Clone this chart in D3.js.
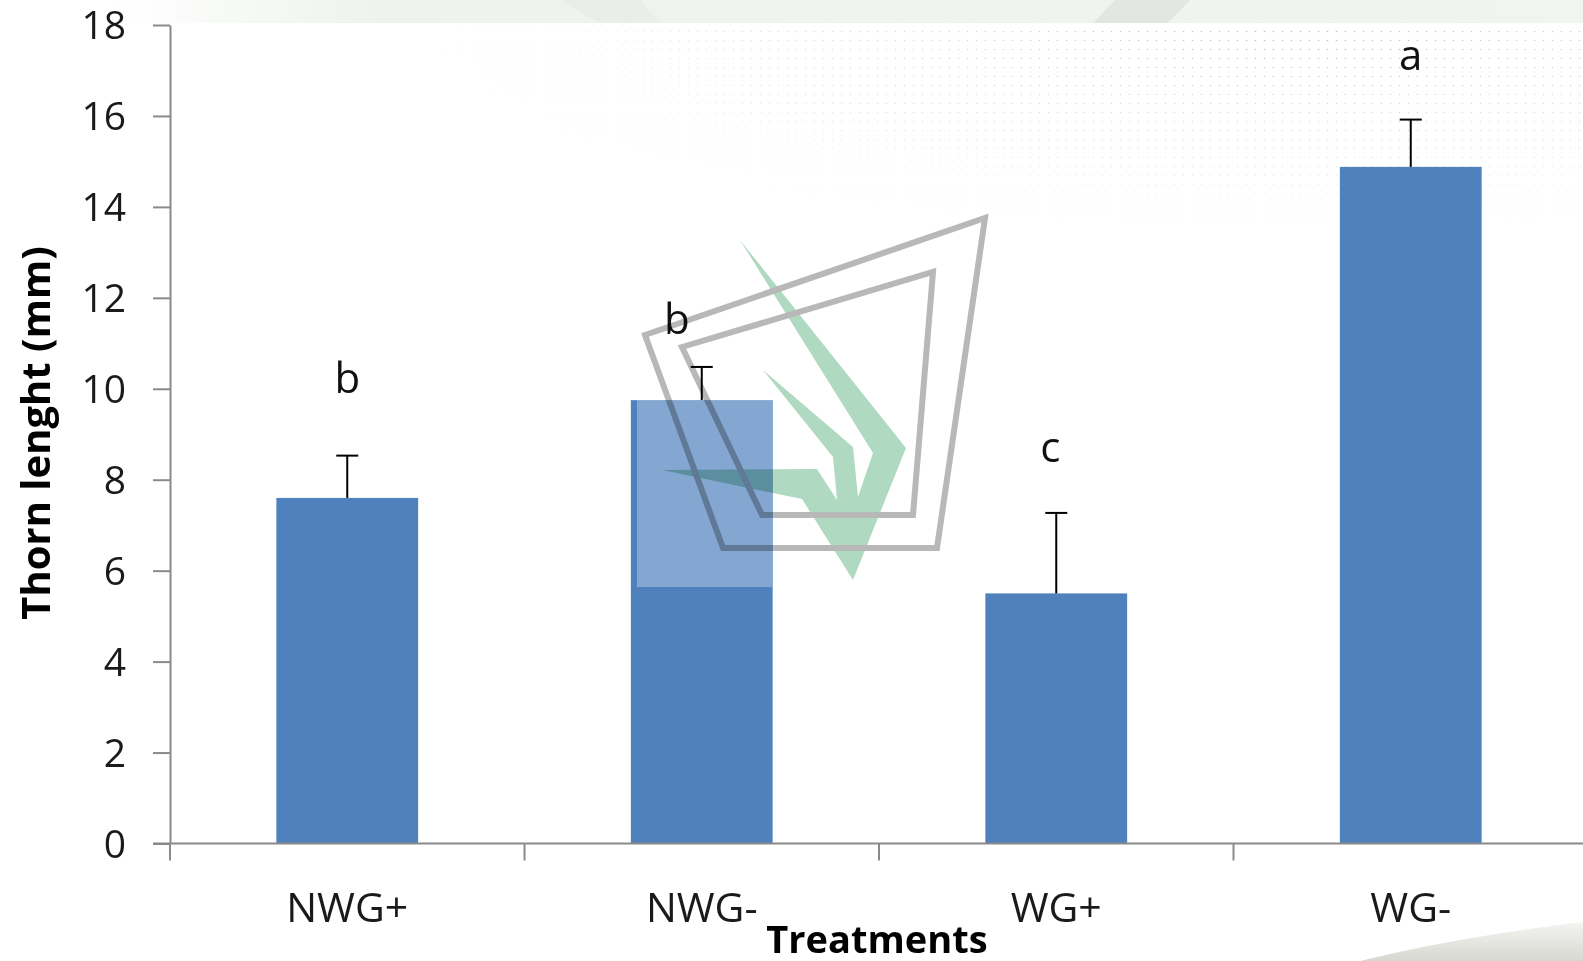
<!DOCTYPE html>
<html>
<head>
<meta charset="utf-8">
<script src="https://cdn.jsdelivr.net/npm/d3@7"></script>
<style>
  html, body { margin: 0; padding: 0; background: #fff; overflow: hidden; }
  svg { display: block; font-family: "Open Sans", sans-serif; }
</style>
</head>
<body>
<div id="chart"></div>
<script>
// data
const categories = ['NWG+', 'NWG-', 'WG+', 'WG-'];
const means = [7.6, 9.75, 5.5, 14.88];
const stdErrors = [0.93, 0.73, 1.77, 1.04];
const letters = ['b', 'b', 'c', 'a'];
const letterLevels = [9.9, 11.2, 8.4, 17.0]; // baseline of the letter, in mm
const yTicks = [0, 2, 4, 6, 8, 10, 12, 14, 16, 18];

const W = 1583, H = 961;
const axisX = 170, y0 = 843.5, yTop = 25, bandW = 354.5;

const svg = d3.select('#chart').append('svg')
  .attr('width', W).attr('height', H);

const defs = svg.append('defs');

// --- slide background bits (top band, dots, corner swoosh) ---
const bandGrad = defs.append('linearGradient').attr('id', 'bandGrad');
bandGrad.append('stop').attr('offset', '0.07').attr('stop-color', '#ffffff');
bandGrad.append('stop').attr('offset', '0.24').attr('stop-color', '#eef3ed');
bandGrad.append('stop').attr('offset', '1').attr('stop-color', '#f0f5ef');

svg.append('rect').attr('x', 0).attr('y', 0).attr('width', W).attr('height', 23)
  .attr('fill', 'url(#bandGrad)');
svg.append('path').attr('d', 'M1115,0 L1190,0 L1168,23 L1093,23 Z').attr('fill', '#e2e8e1');
svg.append('path').attr('d', 'M560,0 L640,0 L660,23 L600,23 Z').attr('fill', '#e9eee8');

const dots = defs.append('pattern').attr('id', 'dots')
  .attr('width', 9).attr('height', 9).attr('patternUnits', 'userSpaceOnUse');
dots.append('circle').attr('cx', 4.5).attr('cy', 4.5).attr('r', 0.8).attr('fill', '#bdbdbd');

const fade = defs.append('radialGradient').attr('id', 'fade')
  .attr('cx', 0.75).attr('cy', 0).attr('r', 0.8);
fade.append('stop').attr('offset', 0).attr('stop-color', '#fff');
fade.append('stop').attr('offset', 1).attr('stop-color', '#000');
defs.append('mask').attr('id', 'fadeMask')
  .append('rect').attr('x', 420).attr('y', 23).attr('width', W - 420).attr('height', 280)
  .attr('fill', 'url(#fade)');
svg.append('rect').attr('x', 420).attr('y', 23).attr('width', W - 420).attr('height', 280)
  .attr('fill', 'url(#dots)').attr('mask', 'url(#fadeMask)');

const swoosh = defs.append('linearGradient').attr('id', 'swoosh')
  .attr('x1', 0).attr('y1', 0).attr('x2', 0).attr('y2', 1);
swoosh.append('stop').attr('offset', 0).attr('stop-color', '#f4f4f1');
swoosh.append('stop').attr('offset', 1).attr('stop-color', '#d8d8d2');
svg.append('path').attr('d', 'M1360,961 C1430,944 1500,932 1583,922 L1583,961 Z')
  .attr('fill', 'url(#swoosh)');

// --- scales ---
const x = d3.scaleBand().domain(categories)
  .range([axisX, axisX + bandW * categories.length]).padding(0);
const y = d3.scaleLinear().domain([0, 18]).range([y0, yTop]);
const barW = x.bandwidth() * 0.4;

const rows = categories.map((c, i) => ({
  cat: c, mean: means[i], se: stdErrors[i], letter: letters[i], lvl: letterLevels[i]
}));

// bars
svg.selectAll('rect.bar').data(rows).enter().append('rect')
  .attr('class', 'bar')
  .attr('x', d => x(d.cat) + (x.bandwidth() - barW) / 2)
  .attr('y', d => y(d.mean))
  .attr('width', barW)
  .attr('height', d => y(0) - y(d.mean))
  .attr('fill', '#4f81bd');

// error bars (upper only)
const err = svg.selectAll('g.err').data(rows).enter().append('g').attr('class', 'err')
  .attr('stroke', '#000').attr('stroke-width', 2);
err.append('line')
  .attr('x1', d => x(d.cat) + x.bandwidth() / 2).attr('x2', d => x(d.cat) + x.bandwidth() / 2)
  .attr('y1', d => y(d.mean)).attr('y2', d => y(d.mean + d.se));
err.append('line')
  .attr('x1', d => x(d.cat) + x.bandwidth() / 2 - 11).attr('x2', d => x(d.cat) + x.bandwidth() / 2 + 11)
  .attr('y1', d => y(d.mean + d.se)).attr('y2', d => y(d.mean + d.se));

// significance letters
const nudge = { 'NWG-': -25, 'WG+': -6 };
svg.selectAll('text.letter').data(rows).enter().append('text')
  .attr('class', 'letter')
  .attr('x', d => x(d.cat) + x.bandwidth() / 2 + (nudge[d.cat] || 0))
  .attr('y', d => y(d.lvl))
  .attr('text-anchor', 'middle')
  .attr('font-size', 42)
  .attr('fill', '#111')
  .text(d => d.letter);

// y axis
const yAxis = svg.append('g')
  .attr('transform', `translate(${axisX},0)`)
  .call(d3.axisLeft(y).tickValues(yTicks).tickSize(17).tickPadding(27).tickSizeOuter(0));
yAxis.select('.domain').attr('stroke', '#8a8a8a').attr('stroke-width', 2);
yAxis.selectAll('.tick line').attr('stroke', '#8a8a8a').attr('stroke-width', 2);
yAxis.selectAll('.tick text')
  .attr('font-size', 39).attr('font-family', '"Open Sans", sans-serif')
  .attr('fill', '#1a1a1a').attr('dy', '0.35em');

// x axis: line to the right edge, ticks on category boundaries
const xAxis = svg.append('g').attr('class', 'x-axis');
xAxis.append('line')
  .attr('x1', axisX - 17).attr('x2', W)
  .attr('y1', y(0)).attr('y2', y(0))
  .attr('stroke', '#8a8a8a').attr('stroke-width', 2);
const bounds = categories.map(c => x(c)).concat([x.range()[1]]);
xAxis.selectAll('line.tick').data(bounds).enter().append('line')
  .attr('class', 'tick')
  .attr('x1', d => d).attr('x2', d => d)
  .attr('y1', y(0)).attr('y2', y(0) + 17)
  .attr('stroke', '#8a8a8a').attr('stroke-width', 2);
xAxis.selectAll('text').data(categories).enter().append('text')
  .attr('x', d => x(d) + x.bandwidth() / 2)
  .attr('y', y(0) + 78)
  .attr('text-anchor', 'middle')
  .attr('font-size', 41)
  .attr('fill', '#1a1a1a')
  .text(d => d);

// axis titles
svg.append('text')
  .attr('transform', 'translate(50,433) rotate(-90)')
  .attr('text-anchor', 'middle')
  .attr('font-size', 40).attr('font-weight', 'bold')
  .attr('fill', '#000')
  .text('Thorn lenght (mm)');
svg.append('text')
  .attr('x', 877).attr('y', 953)
  .attr('text-anchor', 'middle')
  .attr('font-size', 38).attr('font-weight', 'bold')
  .attr('fill', '#000')
  .text('Treatments');

// --- watermark laid over the chart ---
svg.append('rect')
  .attr('x', 637).attr('y', y(means[1])).attr('width', 135).attr('height', 587 - y(means[1]))
  .attr('fill', '#fff').attr('opacity', 0.3);

const mark = svg.append('g').style('mix-blend-mode', 'multiply');
mark.append('path')
  .attr('d', 'M740,240 L906,448 L853,580 L802,499 L662,470 L817,469 L837,500 L833,457 L763,370 L853,447 L858,497 L873,453 Z')
  .attr('fill', '#b0d9c2');
mark.append('path')
  .attr('d', 'M645,335 L985,218 L937,548 L723,548 Z')
  .attr('fill', 'none').attr('stroke', '#b8b8b8').attr('stroke-width', 6);
mark.append('path')
  .attr('d', 'M682,347 L933,272 L913,515 L762,515 Z')
  .attr('fill', 'none').attr('stroke', '#b8b8b8').attr('stroke-width', 6);
</script>
</body>
</html>
